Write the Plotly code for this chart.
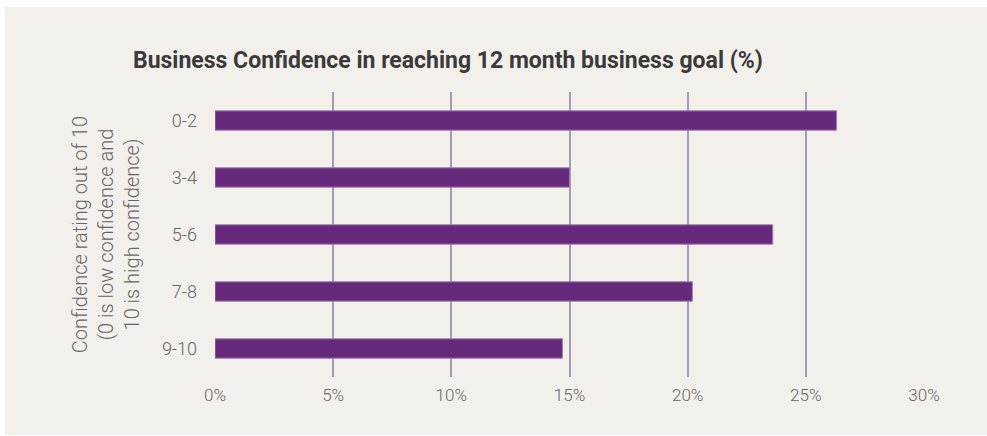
import plotly.graph_objects as go

categories = ["0-2", "3-4", "5-6", "7-8", "9-10"]
values = [26.3, 15.0, 23.6, 20.2, 14.7]
x_ticks = [0, 5, 10, 15, 20, 25, 30]
x_tick_labels = ["0%", "5%", "10%", "15%", "20%", "25%", "30%"]

W, H = 987, 436
L, R, T, B = 215, 924, 92, 377

BEIGE = "#f3efeb"
PURPLE = "#66297b"

fig = go.Figure(go.Bar(
    x=values, y=categories, orientation="h",
    marker=dict(color=PURPLE, line=dict(color="#a07fb0", width=1)),
    width=0.34,
))

def px_to_paper_x(px):
    return (px - L) / (R - L)

def px_to_paper_y(py):
    return (B - py) / (B - T)

fig.update_layout(
    width=W, height=H,
    margin=dict(l=L, r=W - R, t=T, b=H - B, pad=0),
    paper_bgcolor="white",
    plot_bgcolor="rgba(0,0,0,0)",
    showlegend=False,
    title=dict(
        text="Business Confidence in reaching 12 month business goal (%)",
        font=dict(family="Roboto", size=23, color="#3a3a3a", weight="bold"),
        x=133 / W, xanchor="left", y=1 - 60 / H, yanchor="middle",
    ),
    xaxis=dict(
        range=[0, 30], tickvals=x_ticks, ticktext=x_tick_labels,
        showgrid=True, gridcolor="#a59cb1", gridwidth=1.5,
        zeroline=False, showline=False, ticks="",
        tickfont=dict(family="Roboto", size=17, color="#666666", weight=300),
        ticklabelstandoff=6,
        fixedrange=True,
    ),
    yaxis=dict(
        autorange="reversed",
        showgrid=False, zeroline=False, showline=False, ticks="",
        tickfont=dict(family="Roboto", size=18, color="#666666", weight=300),
        ticklabelstandoff=17,
        title=dict(
            text="Confidence rating out of 10<br>(0 is low confidence and<br>10 is high confidence)",
            font=dict(family="Roboto", size=20, color="#666666", weight=300),
            standoff=16,
        ),
        fixedrange=True,
    ),
    shapes=[dict(
        type="rect", xref="paper", yref="paper", layer="below",
        x0=px_to_paper_x(5), x1=px_to_paper_x(W + 5),
        y0=px_to_paper_y(435), y1=px_to_paper_y(7),
        fillcolor=BEIGE, line=dict(width=0),
    )],
)

fig.write_html("out.html")
